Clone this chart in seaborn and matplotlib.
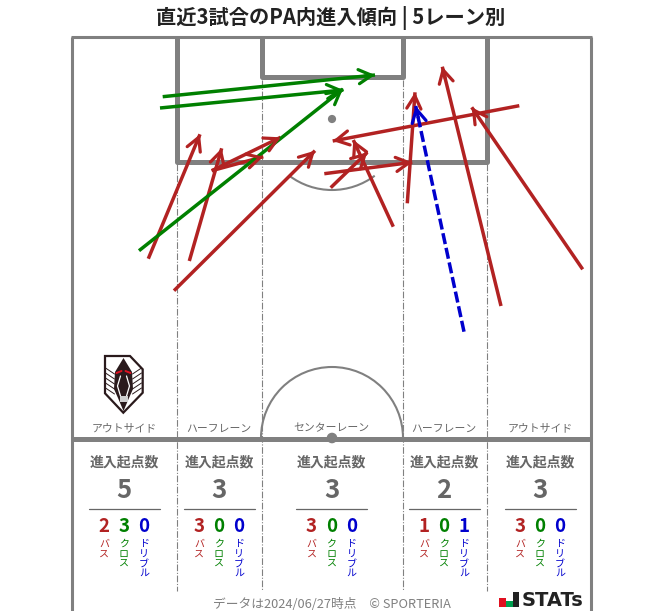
"""直近3試合のPA内進入傾向 (5レーン別) をピッチ図として描く。"""

import matplotlib

matplotlib.use("Agg")

import matplotlib.pyplot as plt
import pandas as pd
import seaborn as sns
from matplotlib.patches import Arc, Circle, Polygon, Rectangle

ROJO = "#B22222"
VERDE = "#008000"
AZUL = "#0000CD"
GRIS = "#808080"
TEXTO = "#666666"

# 矢印の始点と終点 (画像のピクセル座標で読み取り)
PASS_X0 = [148.3, 189.3, 211.7, 211.7, 174.0, 519.3, 393.3, 330.7, 324.3, 407.3, 501.0, 582.7]
PASS_Y0 = [258.7, 261.0, 170.7, 170.7, 290.7, 105.7, 226.7, 187.7, 173.7, 203.3, 306.0, 269.3]
PASS_X1 = [200.0, 221.7, 280.7, 263.3, 315.0, 332.7, 353.3, 367.3, 412.3, 415.0, 442.3, 471.7]
PASS_Y1 = [134.3, 148.3, 137.3, 156.7, 150.7, 141.0, 140.0, 152.3, 162.3, 92.3, 66.7, 107.3]

CROSS_X0 = [162.7, 160.0, 139.0]
CROSS_Y0 = [96.7, 108.0, 250.7]
CROSS_X1 = [375.0, 343.3, 343.0]
CROSS_Y1 = [75.0, 90.0, 89.0]

DRIBBLE_X0 = [464.0]
DRIBBLE_Y0 = [331.7]
DRIBBLE_X1 = [415.7]
DRIBBLE_Y1 = [106.0]

# レーンごとの集計
LANES = ["アウトサイド", "ハーフレーン", "センターレーン", "ハーフレーン", "アウトサイド"]
LANE_X = [124, 219, 331.5, 444, 540]
TOTALS = [5, 3, 3, 2, 3]
PASSES = [2, 3, 3, 1, 3]
CROSSES = [3, 0, 0, 0, 0]
DRIBBLES = [0, 0, 0, 1, 0]

FONT = ["Noto Sans CJK JP", "DejaVu Sans"]


def armar_flechas() -> pd.DataFrame:
    """矢印を lineplot 用の縦持ちテーブルにする。"""
    filas = []
    grupos = [
        ("pass", PASS_X0, PASS_Y0, PASS_X1, PASS_Y1),
        ("cross", CROSS_X0, CROSS_Y0, CROSS_X1, CROSS_Y1),
        ("dribble", DRIBBLE_X0, DRIBBLE_Y0, DRIBBLE_X1, DRIBBLE_Y1),
    ]
    for tipo, xs0, ys0, xs1, ys1 in grupos:
        for i, (x0, y0, x1, y1) in enumerate(zip(xs0, ys0, xs1, ys1)):
            filas.append({"tipo": tipo, "id": f"{tipo}{i}", "x": x0, "y": y0})
            filas.append({"tipo": tipo, "id": f"{tipo}{i}", "x": x1, "y": y1})
    return pd.DataFrame(filas)


def dibujar_pitch(ax) -> None:
    """ピッチのライン類。"""
    borde = dict(color=GRIS, solid_capstyle="butt", zorder=2)
    # 外枠
    ax.plot([71.5, 71.5], [37, 611], lw=2.2, **borde)
    ax.plot([591, 591], [37, 611], lw=2.2, **borde)
    ax.plot([70.5, 592], [37, 37], lw=2.2, **borde)
    # PA とゴールエリア
    ax.plot([176.5, 176.5, 487, 487], [37, 162, 162, 37], lw=3.6, **borde)
    ax.plot([261.5, 261.5, 403, 403], [37, 77, 77, 37], lw=3.6, **borde)
    # ハーフウェイライン
    ax.plot([71, 591], [438.5, 438.5], lw=3.6, **borde)
    # レーン区切り
    for x, y0 in zip([176.5, 261.5, 403, 487], [164, 80, 80, 164]):
        ax.plot([x, x], [y0, 591], color=GRIS, lw=0.8, ls=(0, (6, 1.5, 1, 1.5)), zorder=1)
    # 円弧とスポット
    ax.add_patch(Arc((332, 438), 142, 142, theta1=180, theta2=360, color=GRIS, lw=1.5, zorder=2))
    ax.add_patch(Arc((332, 119), 142, 142, theta1=53, theta2=127, color=GRIS, lw=1.5, zorder=2))
    ax.add_patch(Circle((332, 119), 3.4, color=GRIS, zorder=2))
    ax.add_patch(Circle((332, 438), 4.6, color=GRIS, zorder=3))


def dibujar_escudo(ax) -> None:
    """エンブレムの近似。"""
    contorno = [(105, 356), (130, 356), (142.7, 369.3), (142.7, 392.7), (123.3, 412.7), (105, 393.3)]
    ax.add_patch(Polygon(contorno, closed=True, fc="white", ec="#2a1a1c", lw=1.6, zorder=2))
    cara = [(123.5, 358), (132, 372), (133, 389), (129, 398), (123.5, 411), (118, 398), (114, 389), (115, 372)]
    ax.add_patch(Polygon(cara, closed=True, fc="#2a1a1c", ec="none", zorder=3))
    for lado in (-1, 1):
        for dy in range(0, 24, 5):
            ax.plot(
                [123.5 + lado * 9, 123.5 + lado * 18],
                [374 + dy, 368 + dy],
                color="#2a1a1c", lw=0.7, zorder=3,
            )
        ax.plot(
            [123.5 + lado * 2, 123.5 + lado * 7],
            [371, 373],
            color="#e01020", lw=1.4, zorder=4,
        )
        ax.plot(
            [123.5 + lado * 3, 123.5 + lado * 6, 123.5 + lado * 3],
            [376, 386, 396],
            color="white", lw=0.9, zorder=4,
        )
    ax.add_patch(Rectangle((119.5, 396), 8, 6, fc="#cfcfcf", ec="none", zorder=4))


def dibujar_tablas(ax) -> None:
    """レーン名と進入起点数の集計欄。"""
    for nombre, x, total, p, c, d in zip(LANES, LANE_X, TOTALS, PASSES, CROSSES, DRIBBLES):
        ax.text(x, 428.5, nombre, ha="center", va="center", fontsize=7.8, color=TEXTO)
        ax.text(x, 462, "進入起点数", ha="center", va="center", fontsize=10, color=TEXTO, fontweight="bold")
        ax.text(x, 491, str(total), ha="center", va="center", fontsize=18.5, color=TEXTO, fontweight="bold")
        ax.plot([x - 35.5, x + 35.5], [508.5, 508.5], color=TEXTO, lw=0.9)
        sub = [(-20, p, "バス", ROJO), (0, c, "クロス", VERDE), (20, d, "ドリブル", AZUL)]
        for dx, valor, etiqueta, color in sub:
            ax.text(x + dx, 526.5, str(valor), ha="center", va="center", fontsize=13.5, color=color, fontweight="bold")
            ax.text(
                x + dx, 539, "\n".join(etiqueta), ha="center", va="top",
                fontsize=7.2, color=color, linespacing=0.95,
            )


def dibujar_logo(ax) -> None:
    """STATs ロゴ。"""
    ax.add_patch(Rectangle((499, 598), 6.5, 9, fc="#e01020", ec="none"))
    ax.add_patch(Rectangle((506, 601), 6.5, 6, fc="#00a050", ec="none"))
    ax.add_patch(Rectangle((513, 592), 5.5, 15, fc="#222222", ec="none"))
    ax.text(522, 600, "STATs", ha="left", va="center", fontsize=14, color="#222222",
            fontweight="bold", family="DejaVu Sans")


def main() -> None:
    sns.set_theme(style="white")
    plt.rcParams["font.family"] = FONT

    fig = plt.figure(figsize=(6.63, 6.11), dpi=100)
    ax = fig.add_axes([0, 0, 1, 1])
    ax.set_xlim(0, 663)
    ax.set_ylim(611, 0)
    ax.axis("off")

    dibujar_pitch(ax)
    dibujar_escudo(ax)

    flechas = armar_flechas()
    sns.lineplot(
        data=flechas, x="x", y="y", hue="tipo", style="tipo", units="id",
        estimator=None, sort=False, legend=False, ax=ax, linewidth=2.5, zorder=5,
        palette={"pass": ROJO, "cross": VERDE, "dribble": AZUL},
        dashes={"pass": (1, 0), "cross": (1, 0), "dribble": (3.2, 1.1)},
    )
    # 矢じりは終点付近の短い区間に付ける
    for color, xs0, ys0, xs1, ys1 in [
        (ROJO, PASS_X0, PASS_Y0, PASS_X1, PASS_Y1),
        (VERDE, CROSS_X0, CROSS_Y0, CROSS_X1, CROSS_Y1),
        (AZUL, DRIBBLE_X0, DRIBBLE_Y0, DRIBBLE_X1, DRIBBLE_Y1),
    ]:
        for x0, y0, x1, y1 in zip(xs0, ys0, xs1, ys1):
            ax.annotate(
                "", xy=(x1, y1), xytext=(x1 + (x0 - x1) * 0.05, y1 + (y0 - y1) * 0.05),
                arrowprops=dict(arrowstyle="->,head_length=0.55,head_width=0.3", color=color,
                                lw=2.3, shrinkA=0, shrinkB=0, mutation_scale=17),
                zorder=6,
            )

    dibujar_tablas(ax)
    dibujar_logo(ax)

    ax.text(331, 18, "直近3試合のPA内進入傾向 | 5レーン別", ha="center", va="center",
            fontsize=14.6, fontweight="bold", color="#222222")
    ax.text(331.5, 604, "データは2024/06/27時点　© SPORTERIA", ha="center", va="center",
            fontsize=9.2, color="#808080")

    fig.savefig("out.png", dpi=100)
    plt.close(fig)


if __name__ == "__main__":
    main()
